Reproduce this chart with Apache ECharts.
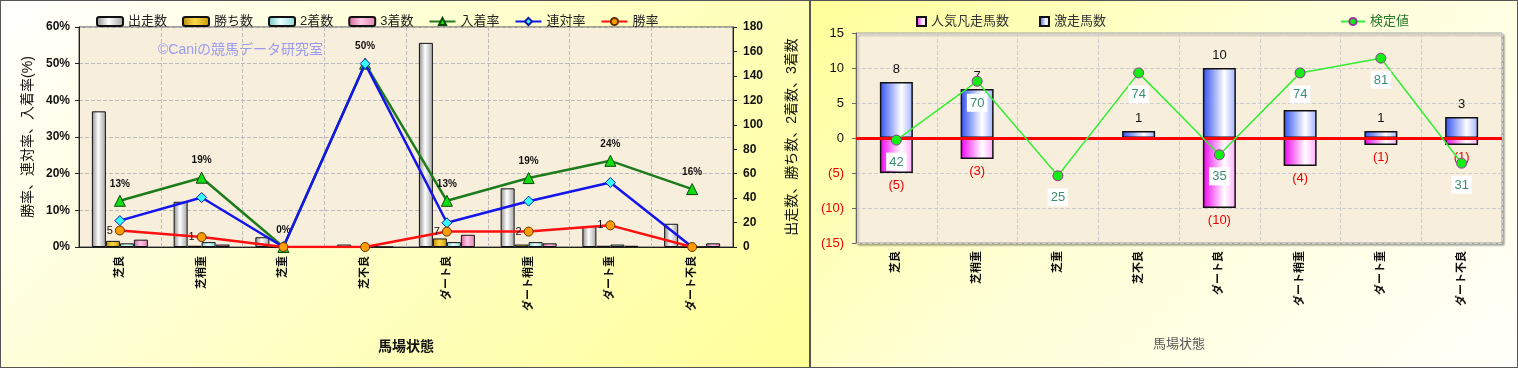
<!DOCTYPE html>
<html><head><meta charset="utf-8">
<script src="https://cdn.jsdelivr.net/npm/echarts@6/dist/echarts.min.js"></script>
<style>
body{margin:0;background:#fff;}
#c1{position:absolute;left:0;top:0;width:808px;height:366px;border:1px solid #555;background:linear-gradient(135deg,#ffffff 0%,#ffffcc 45%,#ffff99 100%);}
#c2{position:absolute;left:810px;top:0;width:706px;height:366px;border:1px solid #555;background:linear-gradient(135deg,#ffff99 0%,#ffffd6 45%,#fffffa 100%);}
</style></head><body>
<div id="c1"></div><div id="c2"></div>
<script>
// ---- data ----
const categories = ['芝良','芝稍重','芝重','芝不良','ダート良','ダート稍重','ダート重','ダート不良'];
const runs    = [111, 37, 8, 2, 167, 48, 17, 19];
const wins    = [5, 1, 0, 0, 7, 2, 1, 0];
const seconds = [3, 4, 0, 1, 4, 4, 2, 0];
const thirds  = [6, 2, 0, 0, 10, 3, 1, 3];
const placeRate  = [12.6, 18.9, 0, 50, 12.6, 18.8, 23.5, 15.8];
const rentaiRate = [7.2, 13.5, 0, 50, 6.6, 12.5, 17.6, 0];
const winRate    = [4.5, 2.7, 0, 0, 4.2, 4.2, 5.9, 0];
const pctAxis = {min: 0, max: 60, interval: 10};
const cntAxis = {min: 0, max: 180, interval: 20};

const gekisou = [8, 7, 0, 1, 10, 4, 1, 3];
const bonsou  = [-5, -3, 0, 0, -10, -4, -1, -1];
const kentei  = [42, 70, 25, 74, 35, 74, 81, 31];
const diffAxis = {min: -15, max: 15, interval: 5};

const FF = '"Liberation Sans","Noto Sans CJK JP",sans-serif';
const G = (stops) => new echarts.graphic.LinearGradient(0,0,1,0,stops.map((c,i)=>({offset:c[0],color:c[1]})));

// ---- left chart ----
const c1 = echarts.init(document.getElementById('c1'));
const barCommon = {type:'bar', yAxisIndex:1, barWidth:14, barGap:'0%', barCategoryGap:'28%'};
c1.setOption({
  animation:false,
  textStyle:{fontFamily:FF},
  legend:{left:90, top:9, itemWidth:26, itemHeight:9, itemGap:15,
    textStyle:{fontSize:13, color:'#222', fontFamily:FF},
    data:[{name:'出走数',icon:'roundRect'},{name:'勝ち数',icon:'roundRect'},{name:'2着数',icon:'roundRect'},{name:'3着数',icon:'roundRect'},'入着率','連対率','勝率']},
  grid:{left:78, right:76, top:26, bottom:120, show:true, backgroundColor:'#f8eedc', borderColor:'#444', borderWidth:1},
  graphic:[{type:'text', left:157, top:42, style:{text:'©Caniの競馬データ研究室', fill:'#9a9aee', font:'14px '+FF}}],
  xAxis:{type:'category', data:categories,
    axisLine:{lineStyle:{color:'#222'}}, axisTick:{show:false},
    axisLabel:{rotate:90, fontSize:11, fontWeight:'bold', color:'#111', margin:9, interval:0, fontFamily:FF},
    splitLine:{show:true, lineStyle:{color:'#bbb', type:'dashed'}},
    name:'馬場状態', nameLocation:'middle', nameGap:93, nameTextStyle:{fontSize:14, fontWeight:'bold', color:'#111', fontFamily:FF}},
  yAxis:[
    {type:'value', min:pctAxis.min, max:pctAxis.max, interval:pctAxis.interval,
     axisLine:{show:true, lineStyle:{color:'#222'}}, axisTick:{show:true, length:4},
     axisLabel:{formatter:'{value}%', fontSize:12, fontWeight:'bold', color:'#111', margin:9},
     splitLine:{lineStyle:{color:'#bbb', type:'dashed'}},
     name:'勝率、連対率、入着率(%)', nameLocation:'middle', nameGap:44,
     nameTextStyle:{fontSize:14, color:'#111', fontFamily:FF}},
    {type:'value', min:cntAxis.min, max:cntAxis.max, interval:cntAxis.interval,
     axisLine:{show:true, lineStyle:{color:'#222'}}, axisTick:{show:true, length:4},
     axisLabel:{fontSize:12, fontWeight:'bold', color:'#111', margin:10},
     splitLine:{show:false},
     name:'出走数、勝ち数、2着数、3着数', nameLocation:'middle', nameGap:52,
     nameTextStyle:{fontSize:14, color:'#111', fontFamily:FF}}
  ],
  series:[
    Object.assign({name:'出走数', data:runs, itemStyle:{color:G([[0,'#8a8a8a'],[0.45,'#ffffff'],[1,'#a0a0a0']]), borderColor:'#111', borderWidth:1}}, barCommon),
    Object.assign({name:'勝ち数', data:wins, itemStyle:{color:G([[0,'#b88a00'],[0.45,'#ffd84a'],[1,'#c89a00']]), borderColor:'#111', borderWidth:1}}, barCommon),
    Object.assign({name:'2着数', data:seconds, itemStyle:{color:G([[0,'#70c4c4'],[0.45,'#eaffff'],[1,'#88d4d4']]), borderColor:'#111', borderWidth:1}}, barCommon),
    Object.assign({name:'3着数', data:thirds, itemStyle:{color:G([[0,'#d0609a'],[0.45,'#ffc8e6'],[1,'#e080b0']]), borderColor:'#111', borderWidth:1}}, barCommon),
    {name:'入着率', type:'line', data:placeRate, z:3, lineStyle:{color:'#1c7c1c', width:2.5},
     symbol:'triangle', symbolSize:11, itemStyle:{color:'#11dd11', borderColor:'#0a4a0a', borderWidth:1},
     label:{show:true, position:'top', distance:6, fontSize:10, fontWeight:'bold', color:'#111',
       formatter:p=>Math.round(p.value)+'%'}},
    {name:'連対率', type:'line', data:rentaiRate, z:4, lineStyle:{color:'#1414ee', width:2.5},
     symbol:'diamond', symbolSize:10, itemStyle:{color:'#33ffff', borderColor:'#1414aa', borderWidth:1}},
    {name:'勝率', type:'line', data:winRate, z:5, lineStyle:{color:'#ff1010', width:2.5},
     symbol:'circle', symbolSize:9, itemStyle:{color:'#ff9c00', borderColor:'#663300', borderWidth:1},
     label:{show:true, position:'left', distance:2, fontSize:11, color:'#111',
       formatter:p=> wins[p.dataIndex] > 0 ? String(wins[p.dataIndex]) : ''}}
  ]
});

// ---- right chart ----
const c2 = echarts.init(document.getElementById('c2'));
c2.setOption({
  animation:false,
  textStyle:{fontFamily:FF},
  legend:[
    {left:100, top:9, itemWidth:9, itemHeight:9, itemGap:30, icon:'rect',
     textStyle:{fontSize:13, color:'#333', fontFamily:FF}, data:['人気凡走馬数','激走馬数']},
    {left:524, top:9, itemWidth:24, itemHeight:9,
     textStyle:{fontSize:13, color:'#2a7a2a', fontFamily:FF}, data:['検定値']}
  ],
  grid:{left:45, right:15, top:32, bottom:124, show:true, backgroundColor:'#f8eedc', borderColor:'#a0a0a0', borderWidth:1,
    shadowColor:'rgba(0,0,0,0.35)', shadowBlur:2, shadowOffsetX:2, shadowOffsetY:2},
  xAxis:{type:'category', data:categories,
    axisLine:{show:false}, axisTick:{show:false},
    axisLabel:{rotate:90, fontSize:11, fontWeight:'bold', color:'#111', margin:8, interval:0, fontFamily:FF},
    splitLine:{show:true, lineStyle:{color:'#ccc', type:'dashed'}},
    name:'馬場状態', nameLocation:'middle', nameGap:95, nameTextStyle:{fontSize:13, color:'#555', fontFamily:FF}},
  yAxis:[
    {type:'value', min:diffAxis.min, max:diffAxis.max, interval:diffAxis.interval,
     axisLine:{show:true, lineStyle:{color:'#666'}}, axisTick:{show:true, length:4, lineStyle:{color:'#666'}},
     axisLabel:{fontSize:13, margin:12,
       formatter:v=> v < 0 ? '(' + (-v) + ')' : String(v),
       color:v=> v < 0 ? '#ee0000' : '#111'},
     splitLine:{lineStyle:{color:'#ccc', type:'dashed'}}},
    {type:'value', min:-7, max:93, show:false, splitLine:{show:false}}
  ],
  series:[
    {name:'人気凡走馬数', type:'bar', data:bonsou, barWidth:33, barGap:'-100%', z:2,
     itemStyle:{color:G([[0,'#ee00ee'],[0.65,'#ffffff'],[1,'#ffaaff']]), borderColor:'#111', borderWidth:1.5},
     label:{show:true, position:'bottom', distance:6, fontSize:13, color:'#ee0000',
       formatter:p=> p.value < 0 ? '(' + (-p.value) + ')' : ''}},
    {name:'激走馬数', type:'bar', data:gekisou, barWidth:33, barGap:'-100%', z:2,
     itemStyle:{color:G([[0,'#3050f0'],[0.65,'#ffffff'],[1,'#a0b0ff']]), borderColor:'#111', borderWidth:1.5},
     label:{show:true, position:'top', distance:6, fontSize:13, color:'#111',
       formatter:p=> p.value > 0 ? String(p.value) : ''},
     markLine:{silent:true, symbol:['none','none'], label:{show:false}, z:3,
       lineStyle:{color:'#ff0000', width:3, type:'solid'}, data:[{yAxis:0}]}},
    {name:'検定値', type:'line', yAxisIndex:1, data:kentei, z:6,
     lineStyle:{color:'#33ee33', width:1.5},
     symbol:'circle', symbolSize:10, itemStyle:{color:'#11ee11', borderColor:'#993399', borderWidth:1},
     label:{show:true, position:'bottom', distance:7, fontSize:13, color:'#3a8f6f',
       backgroundColor:'#ffffff', padding:[3,3,2,3]}}
  ]
});
</script></body></html>
